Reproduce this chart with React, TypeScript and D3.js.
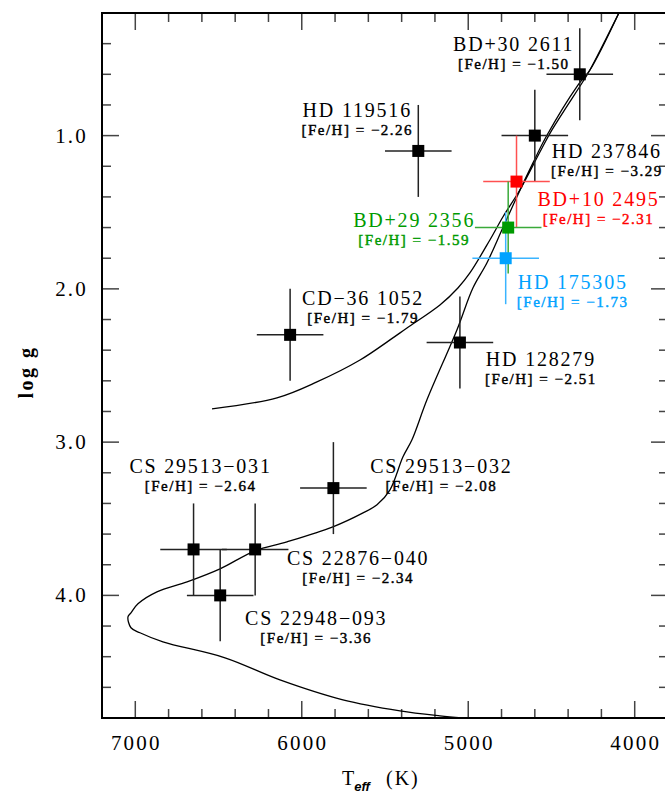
import React from "react";
import * as d3 from "d3";

// ---------- data ----------
const starNames = [
  "BD+30 2611", "HD 237846", "HD 119516", "BD+10 2495", "BD+29 2356", "HD 175305",
  "CD\u221236 1052", "HD 128279", "CS 29513\u2212032", "CS 29513\u2212031", "CS 22876\u2212040", "CS 22948\u2212093",
];
const starTeff = [4330, 4600, 5300, 4710, 4760, 4775, 6070, 5050, 5810, 6650, 6280, 6490];
const starLogg = [0.6, 1.0, 1.1, 1.3, 1.6, 1.8, 2.3, 2.35, 3.3, 3.7, 3.7, 4.0];
const starFeH = ["\u22121.50", "\u22123.29", "\u22122.26", "\u22122.31", "\u22121.59", "\u22121.73", "\u22121.79", "\u22122.51", "\u22122.08", "\u22122.64", "\u22122.34", "\u22123.36"];
const starTeffErr = [200, 200, 200, 200, 200, 200, 200, 200, 200, 200, 200, 200];
const starLoggErr = [0.3, 0.3, 0.3, 0.3, 0.3, 0.3, 0.3, 0.3, 0.3, 0.3, 0.3, 0.3];
const starGroup = ["k", "k", "k", "r", "g", "b", "k", "k", "k", "k", "k", "k"];

// isochrone A (main sequence -> turn-off -> subgiant -> RGB)
const isoA: [number, number][] = [
  [5038, 4.80], [5170, 4.786], [5410, 4.753], [5753, 4.681], [6131, 4.551], [6461, 4.407],
  [6834, 4.303], [6972, 4.244], [7026, 4.211], [7044, 4.14], [7026, 4.114], [6984, 4.055],
  [6870, 3.977], [6689, 3.912], [6491, 3.827], [6281, 3.709], [6089, 3.651], [5813, 3.553],
  [5632, 3.462], [5548, 3.409], [5470, 3.311], [5392, 3.096], [5338, 2.985], [5248, 2.724],
  [5068, 2.268], [4972, 1.994], [4888, 1.831], [4798, 1.616], [4708, 1.40], [4611, 1.178],
  [4533, 1.009], [4341, 0.67], [4269, 0.572], [4095, 0.2],
];
// isochrone B (horizontal-branch-like track joining the RGB)
const isoB: [number, number][] = [
  [6539, 2.783], [6149, 2.711], [5909, 2.607], [5650, 2.464], [5470, 2.333], [5368, 2.255],
  [5170, 2.105], [5062, 1.994], [4990, 1.896], [4870, 1.681], [4792, 1.531], [4690, 1.355],
  [4563, 1.094], [4497, 0.963], [4305, 0.637], [4269, 0.572], [4095, 0.2],
];

const xTickMajor = [7000, 6000, 5000, 4000];
const xTickLabels = ["7000", "6000", "5000", "4000"];
const yTickMajor = [1, 2, 3, 4];
const yTickLabels = ["1.0", "2.0", "3.0", "4.0"];

// ---------- layout ----------
const W = 665, H = 794;
const L = 102, R = 668, T = 13, B = 718;
const colors: Record<string, string> = { k: "#000000", r: "#ff0000", g: "#009a00", b: "#00a2ff" };
const barColors: Record<string, string> = { k: "#222222", r: "#ff5050", g: "#3aaa3a", b: "#3ab4ff" };
// label offsets (px) from each point: name centre/baseline
const labelOffsets: [number, number][] = [
  [-67, -23], [71, 22], [-62, -34], [81, 24], [-95, -1], [66, 31],
  [72, -30], [80, 23], [107, -15], [6, -76], [102, 16], [95, 30],
];

const SERIF = "'Liberation Serif', 'Times New Roman', serif";

export default function App() {
  const x = d3.scaleLinear().domain([7200, 3800]).range([L, R]);
  const y = d3.scaleLinear().domain([0.2, 4.8]).range([T, B]);
  const line = d3
    .line<[number, number]>()
    .x((d) => x(d[0]))
    .y((d) => y(d[1]))
    .curve(d3.curveCatmullRom.alpha(0.5));

  const xMinor = d3.range(3800, 7201, 200);
  const yMinor = d3.range(2, 49, 2).map((v) => v / 10);

  const tickColor = "#444";
  return (
    <svg width={W} height={H} style={{ position: "absolute", left: 0, top: 0, background: "#fff" }}>
      <defs>
        <clipPath id="plotclip">
          <rect x={L} y={T} width={R - L} height={B - T} />
        </clipPath>
      </defs>
      <rect x={0} y={0} width={W} height={H} fill="#fff" />

      {/* ticks */}
      <g stroke={tickColor} strokeWidth={1.5}>
        {xMinor.map((v) => {
          const major = v % 1000 === 0;
          const len = major ? 17 : 9;
          return (
            <g key={"xt" + v}>
              <line x1={x(v)} x2={x(v)} y1={B} y2={B - len} />
              <line x1={x(v)} x2={x(v)} y1={T} y2={T + len} />
            </g>
          );
        })}
        {yMinor.map((v) => {
          const major = Math.abs(v - Math.round(v)) < 1e-6;
          const len = major ? 17 : 9;
          return (
            <g key={"yt" + v}>
              <line x1={L} x2={L + len} y1={y(v)} y2={y(v)} />
              <line x1={R} x2={R - len} y1={y(v)} y2={y(v)} />
            </g>
          );
        })}
      </g>

      {/* frame */}
      <rect x={L} y={T} width={R - L} height={B - T} fill="none" stroke="#000" strokeWidth={2} />

      {/* tick labels */}
      <g fontFamily={SERIF} fontSize={21} fill="#000">
        {xTickMajor.map((v, i) => (
          <text key={"xl" + v} x={x(v) + 1} y={750} textAnchor="middle" letterSpacing={2.2}>
            {xTickLabels[i]}
          </text>
        ))}
        {yTickMajor.map((v, i) => (
          <text key={"yl" + v} x={88} y={y(v) + 7} textAnchor="end" letterSpacing={2.2}>
            {yTickLabels[i]}
          </text>
        ))}
      </g>

      {/* isochrones */}
      <g clipPath="url(#plotclip)" fill="none" stroke="#000" strokeWidth={1.3}>
        <path d={line(isoA) || ""} />
        <path d={line(isoB) || ""} />
      </g>

      {/* error bars */}
      <g strokeWidth={1.5}>
        {starNames.map((n, i) => {
          const cx = x(starTeff[i]);
          const cy = y(starLogg[i]);
          const c = barColors[starGroup[i]];
          return (
            <g key={"eb" + i} stroke={c}>
              <line x1={x(starTeff[i] + starTeffErr[i])} x2={x(starTeff[i] - starTeffErr[i])} y1={cy} y2={cy} />
              <line x1={cx} x2={cx} y1={y(starLogg[i] - starLoggErr[i])} y2={y(starLogg[i] + starLoggErr[i])} />
            </g>
          );
        })}
      </g>

      {/* points */}
      {starNames.map((n, i) => {
        const cx = x(starTeff[i]);
        const cy = y(starLogg[i]);
        return <rect key={"pt" + i} x={cx - 6} y={cy - 6} width={12} height={12} fill={colors[starGroup[i]]} />;
      })}

      {/* labels */}
      {starNames.map((n, i) => {
        const cx = x(starTeff[i]) + labelOffsets[i][0];
        const cy = y(starLogg[i]) + labelOffsets[i][1];
        const c = colors[starGroup[i]];
        return (
          <g key={"lb" + i} fill={c} fontFamily={SERIF} textAnchor="middle">
            <text x={cx + 1} y={cy} fontSize={20} letterSpacing={1.8}>
              {n}
            </text>
            <text x={cx + 1} y={cy + 18} fontSize={15} stroke={c} strokeWidth={0.45} letterSpacing={1.5}>
              {"[Fe/H] = " + starFeH[i]}
            </text>
          </g>
        );
      })}

      {/* axis titles */}
      <text
        transform={`translate(33, 372) rotate(-90)`}
        fontFamily={SERIF}
        fontSize={20}
        fontWeight={700}
        textAnchor="middle"
        letterSpacing={2.5}
      >
        log g
      </text>
      <text x={342} y={785} fontFamily={SERIF} fontSize={20}>
        T
        <tspan fontSize={13} fontWeight={700} fontStyle="italic" dy={6} fontFamily="'Liberation Sans', Arial, sans-serif">
          eff
        </tspan>
        <tspan x={386} dy={-6} letterSpacing={2}>
          (K)
        </tspan>
      </text>
    </svg>
  );
}
